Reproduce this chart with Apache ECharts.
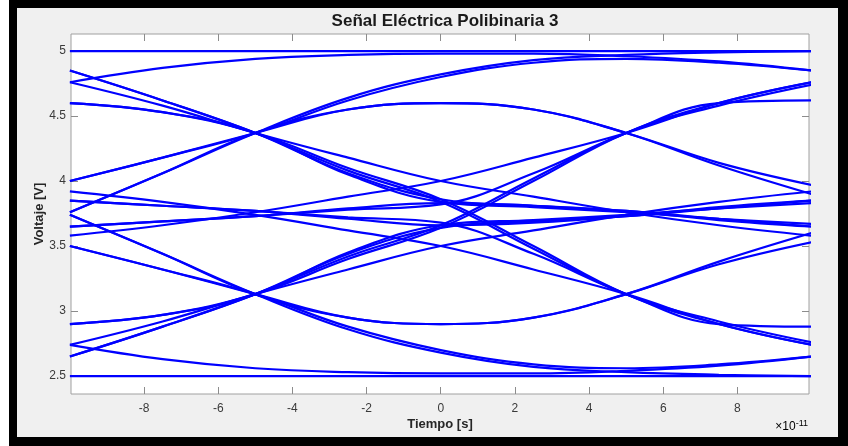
<!DOCTYPE html>
<html>
<head>
<meta charset="utf-8">
<script src="https://cdn.jsdelivr.net/npm/echarts@6/dist/echarts.min.js"></script>
<style>
html,body{margin:0;padding:0;background:#fff;width:848px;height:446px;overflow:hidden;}
#frame{position:absolute;left:9px;top:0;width:839px;height:446px;background:#000;}
#inner{position:absolute;left:17px;top:8px;width:821px;height:429px;background:#f0f0f0;}
#chart{position:absolute;left:0;top:0;width:848px;height:446px;}
</style>
</head>
<body>
<div id="frame"></div>
<div id="inner"></div>
<div id="chart"></div>
<script>
// time axis samples (units of 1e-11 s)
const tSamples = [-10, -7.5, -5, -2.5, 0, 2.5, 5, 7.5, 10];
const xTicks = [-8, -6, -4, -2, 0, 2, 4, 6, 8];
const yTicks = [2.5, 3, 3.5, 4, 4.5, 5];

// upper traces (Voltaje [V])
const topFlat   = [5.00, 5.00, 5.00, 5.00, 5.00, 5.00, 5.00, 5.00, 5.00];
const topArc    = [4.76, 4.87, 4.94, 4.97, 4.98, 4.98, 4.96, 4.92, 4.85];
const fallMidA  = [4.85, 4.62, 4.37, 4.06, 3.86, 3.81, 3.77, 3.71, 3.65];
const fallMidB  = [4.60, 4.53, 4.37, 4.05, 3.84, 3.80, 3.76, 3.71, 3.67];
const fallDiagA = [4.85, 4.62, 4.37, 4.08, 3.84, 3.48, 3.13, 2.92, 2.76];
const fallDiagB = [4.60, 4.53, 4.37, 4.10, 3.86, 3.50, 3.13, 2.90, 2.74];
const slowFall  = [4.76, 4.58, 4.37, 4.18, 4.00, 3.88, 3.76, 3.66, 3.58];
const domeA     = [4.00, 4.18, 4.37, 4.55, 4.60, 4.55, 4.37, 4.14, 3.97];
const domeB     = [3.76, 4.06, 4.37, 4.55, 4.60, 4.55, 4.37, 4.12, 3.90];
const riseTopA  = [3.76, 4.06, 4.37, 4.64, 4.82, 4.93, 4.97, 4.99, 5.00];
const riseTopB  = [4.00, 4.18, 4.37, 4.62, 4.80, 4.91, 4.94, 4.91, 4.85];
// middle traces
const midHi     = [3.85, 3.81, 3.77, 3.71, 3.66, 3.68, 3.73, 3.80, 3.85];
const midLo     = [3.65, 3.69, 3.73, 3.79, 3.83, 3.81, 3.77, 3.70, 3.65];
const midRise   = [3.65, 3.69, 3.73, 3.78, 3.82, 4.06, 4.37, 4.60, 4.62];
const midRise2  = [3.58, 3.66, 3.76, 3.88, 4.00, 4.18, 4.37, 4.60, 4.76];
const midFall   = [3.85, 3.81, 3.77, 3.72, 3.68, 3.44, 3.13, 2.90, 2.88];
const midFall2  = [3.92, 3.84, 3.74, 3.62, 3.50, 3.32, 3.13, 2.90, 2.74];
// lower traces
const botFlat   = [2.50, 2.50, 2.50, 2.50, 2.50, 2.50, 2.50, 2.50, 2.50];
const botArc    = [2.74, 2.63, 2.56, 2.53, 2.52, 2.52, 2.54, 2.58, 2.65];
const riseMidA  = [2.65, 2.88, 3.13, 3.44, 3.64, 3.69, 3.73, 3.79, 3.85];
const riseMidB  = [2.90, 2.97, 3.13, 3.45, 3.66, 3.70, 3.74, 3.79, 3.83];
const riseDiagA = [2.65, 2.88, 3.13, 3.42, 3.66, 4.02, 4.37, 4.58, 4.74];
const riseDiagB = [2.90, 2.97, 3.13, 3.40, 3.64, 4.00, 4.37, 4.60, 4.76];
const slowRise  = [2.74, 2.92, 3.13, 3.32, 3.50, 3.62, 3.74, 3.84, 3.92];
const bDomeA    = [3.50, 3.32, 3.13, 2.95, 2.90, 2.95, 3.13, 3.36, 3.53];
const bDomeB    = [3.74, 3.44, 3.13, 2.95, 2.90, 2.95, 3.13, 3.38, 3.60];
const fallBotA  = [3.74, 3.44, 3.13, 2.86, 2.68, 2.57, 2.53, 2.51, 2.50];
const fallBotB  = [3.50, 3.32, 3.13, 2.88, 2.70, 2.59, 2.56, 2.59, 2.65];

const traces = [topFlat, topArc, fallMidA, fallMidB, fallDiagA, fallDiagB, slowFall,
  domeA, domeB, riseTopA, riseTopB, midHi, midLo, midRise, midRise2, midFall, midFall2,
  botFlat, botArc, riseMidA, riseMidB, riseDiagA, riseDiagB, slowRise,
  bDomeA, bDomeB, fallBotA, fallBotB];

const X_MIN = -9.97, X_MAX = 9.93, Y_MIN = 2.362, Y_MAX = 5.131;
const chart = echarts.init(document.getElementById('chart'), null, {renderer: 'canvas'});
const tickColor = '#8c8c8c';
const labelColor = '#3a3a3a';
const font = '"Liberation Sans", Arial, Helvetica, sans-serif';

const series = traces.map(arr => ({
  type: 'line',
  data: tSamples.map((t, i) => [t, arr[i]]),
  smooth: 0.4,
  symbol: 'none',
  clip: true,
  silent: true,
  z: 2,
  lineStyle: {color: '#0000ff', width: 2.2}
}));

// y-axis tick marks (inside, left and right), positioned through the axis scale
const tickLenX = (X_MAX - X_MIN) * 7 / 738;
series.push({
  type: 'lines', coordinateSystem: 'cartesian2d', silent: true, z: 1,
  lineStyle: {color: tickColor, width: 1, opacity: 1},
  data: yTicks.flatMap(v => [
    {coords: [[X_MIN, v], [X_MIN + tickLenX, v]]},
    {coords: [[X_MAX, v], [X_MAX - tickLenX, v]]}
  ])
});

chart.setOption({
  animation: false,
  backgroundColor: 'transparent',
  title: {
    text: 'Señal Eléctrica Polibinaria 3',
    left: 440, textAlign: 'center', top: 8,
    textStyle: {fontFamily: font, fontWeight: 'bold', fontSize: 17, color: '#1a1a1a'}
  },
  grid: {left: 71, top: 34, width: 738, height: 360, show: true,
    backgroundColor: '#ffffff', borderColor: '#a0a0a0', borderWidth: 1},
  xAxis: [{
    type: 'value', min: X_MIN, max: X_MAX, position: 'bottom',
    name: 'Tiempo [s]', nameLocation: 'middle', nameGap: 24, nameMoveOverlap: false,
    nameTextStyle: {fontFamily: font, fontWeight: 'bold', fontSize: 13, color: '#262626'},
    axisLine: {show: false},
    axisTick: {show: true, inside: true, length: 7, customValues: xTicks, lineStyle: {color: tickColor}},
    axisLabel: {customValues: xTicks, margin: 9, fontFamily: font, fontSize: 12, color: labelColor},
    splitLine: {show: false}
  }, {
    type: 'value', min: X_MIN, max: X_MAX, position: 'top',
    axisLine: {show: false},
    axisTick: {show: true, inside: true, length: 7, customValues: xTicks, lineStyle: {color: tickColor}},
    axisLabel: {show: false},
    splitLine: {show: false}
  }],
  yAxis: {
    type: 'value', min: Y_MIN, max: Y_MAX, position: 'left',
    name: 'Voltaje [V]', nameLocation: 'middle', nameGap: 25, nameRotate: 90, nameMoveOverlap: false,
    nameTextStyle: {fontFamily: font, fontWeight: 'bold', fontSize: 13, color: '#262626'},
    axisLine: {show: false},
    axisTick: {show: false},
    axisLabel: {customValues: yTicks, margin: 5, fontFamily: font, fontSize: 12, color: labelColor},
    splitLine: {show: false}
  },
  graphic: [{
    type: 'text', right: 40, top: 419,
    style: {
      text: '{a|×10}{b|-11}',
      rich: {
        a: {fontFamily: font, fontSize: 12, color: '#5a5a5a', verticalAlign: 'bottom', lineHeight: 14},
        b: {fontFamily: font, fontSize: 9, color: '#5a5a5a', verticalAlign: 'top', lineHeight: 10, padding: [0, 0, 8, 0]}
      }
    }
  }],
  series: series
});
</script>
</body>
</html>
